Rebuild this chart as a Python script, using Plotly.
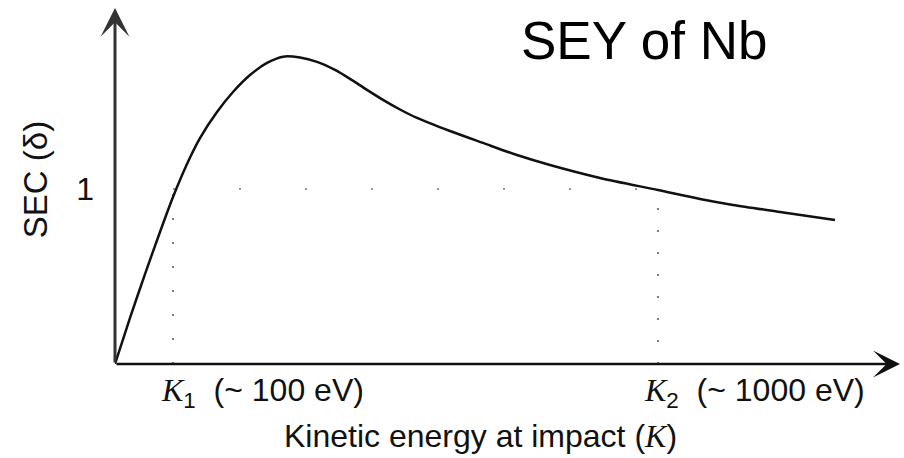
import plotly.graph_objects as go

# ---- data (arbitrary energy units along the axis, SEC in units of delta) ----
energy = [0, 15, 30, 45, 58, 72, 85, 102, 118, 135, 152, 168, 185, 202, 220,
          235, 252, 268, 285, 302, 335, 368, 402, 435, 485, 543, 585, 618, 665, 720]
sec = [0, 0.263, 0.514, 0.754, 0.954, 1.143, 1.291, 1.44, 1.554, 1.651,
       1.72, 1.756, 1.751, 1.726, 1.68, 1.629, 1.566, 1.509, 1.454, 1.406,
       1.331, 1.263, 1.194, 1.137, 1.063, 0.994, 0.943, 0.909, 0.869, 0.823]

k1 = 58          # K1 (~100 eV) position
k2 = 543         # K2 (~1000 eV) position
unity = 1        # SEC = 1 level
x_max = 785
y_max = 2.034

k1_label = "<span style='font-family:Liberation Serif'><i>K</i></span><sub>1</sub>  (~ 100 eV)"
k2_label = "<span style='font-family:Liberation Serif'><i>K</i></span><sub>2</sub>  (~ 1000 eV)"
x_title = "Kinetic energy at impact (<span style='font-family:Liberation Serif'><i>K</i></span>)"
y_title = "SEC (δ)"
title = "SEY of Nb"

FONT = "Liberation Sans, Arial, sans-serif"

fig = go.Figure()

# dotted guide lines
fig.add_trace(go.Scatter(x=[k1, k1], y=[0, unity], mode="lines",
                         line=dict(color="#555", width=1.5, dash="2px,22px"),
                         hoverinfo="skip", showlegend=False))
fig.add_trace(go.Scatter(x=[k2, k2], y=[0, unity], mode="lines",
                         line=dict(color="#555", width=1.5, dash="2px,20px"),
                         hoverinfo="skip", showlegend=False))
fig.add_trace(go.Scatter(x=[k1, k2], y=[unity, unity], mode="lines",
                         line=dict(color="#777", width=1.5, dash="2px,64px"),
                         hoverinfo="skip", showlegend=False))

# SEC curve
fig.add_trace(go.Scatter(x=energy, y=sec, mode="lines",
                         line=dict(color="#111", width=2.5, shape="spline", smoothing=0.8),
                         showlegend=False))

annotations = [
    # axes arrows
    dict(x=x_max, y=0, ax=0, ay=0, xref="x", yref="y", axref="x", ayref="y",
         showarrow=True, arrowhead=3, arrowsize=1.8, arrowwidth=2.5,
         arrowcolor="#111", text=""),
    dict(x=0, y=y_max, ax=0, ay=0, xref="x", yref="y", axref="x", ayref="y",
         showarrow=True, arrowhead=3, arrowsize=1.6, arrowwidth=3,
         arrowcolor="#333", text=""),
    # labels
    dict(x=k1, y=0, xref="x", yref="y", xanchor="left", yanchor="middle",
         xshift=-14, yshift=-28, text=k1_label, showarrow=False,
         font=dict(family=FONT, size=32, color="#111")),
    dict(x=k2, y=0, xref="x", yref="y", xanchor="left", yanchor="middle",
         xshift=-16, yshift=-28, text=k2_label, showarrow=False,
         font=dict(family=FONT, size=32, color="#111")),
    dict(x=0.466, y=0, xref="paper", yref="y", xanchor="center", yanchor="middle",
         yshift=-72, text=x_title, showarrow=False,
         font=dict(family=FONT, size=32, color="#111")),
    dict(x=0, y=1.05, xref="paper", yref="y", xanchor="center", yanchor="middle",
         xshift=-80, text=y_title, textangle=-90, showarrow=False,
         font=dict(family=FONT, size=33, color="#111")),
    dict(x=0.675, y=0.91, xref="paper", yref="paper", xanchor="center", yanchor="middle",
         text=title, showarrow=False,
         font=dict(family=FONT, size=53, color="#000")),
]

fig.update_layout(
    width=904, height=458,
    margin=dict(l=115, r=4, t=8, b=94),
    paper_bgcolor="white", plot_bgcolor="white",
    annotations=annotations,
    xaxis=dict(range=[0, x_max], showgrid=False, zeroline=False, showline=False,
               showticklabels=False, ticks="", automargin=False),
    yaxis=dict(range=[0, y_max], showgrid=False, zeroline=False, showline=False,
               tickvals=[unity], ticktext=["1"], ticks="", automargin=False,
               ticklabelstandoff=20,
               tickfont=dict(family=FONT, size=32, color="#111")),
)

fig.write_html("out.html",
               config={"displayModeBar": False},
               post_script="document.body.style.margin='0';document.body.style.overflow='hidden';")
